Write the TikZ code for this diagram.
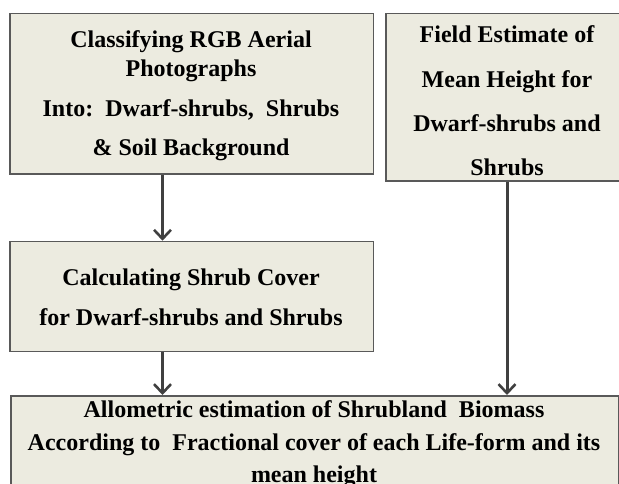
\documentclass[tikz,border=0pt]{standalone}
\usepackage{fontspec}
\setmainfont{Liberation Serif}
\usetikzlibrary{arrows.meta}
\definecolor{boxfill}{HTML}{ECEBE0}
\definecolor{boxline}{HTML}{595959}
\definecolor{arrowcol}{HTML}{404040}
\begin{document}
\begin{tikzpicture}[x=1pt,y=-1pt,
  box/.style={draw=boxline,line width=1.6pt,fill=boxfill,anchor=north west,inner sep=0pt},
  txt/.style={anchor=base,inner sep=0pt,font=\fontsize{24}{28}\selectfont\bfseries},
  flow/.style={draw=arrowcol,line width=3pt,-{Straight Barb[length=9pt,width=17pt,line width=2.6pt]}}]
\useasboundingbox (0,0) rectangle (619,484);
\clip (0,0) rectangle (619,484);
% boxes
\node[box,minimum width=363.4pt,minimum height=160.3pt] (b1) at (9.3,12.7) {};
\node[box,minimum width=244pt,minimum height=167.5pt] (b2) at (385,12.7) {};
\node[box,minimum width=363.4pt,minimum height=110pt] (b3) at (9.3,240.7) {};
\node[box,minimum width=608pt,minimum height=100pt] (b4) at (10,395) {};
% texts
\node[txt] (t1a) at (191,48) {Classifying RGB Aerial};
\node[txt] (t1b) at (191,76.5) {Photographs};
\node[txt] (t1c) at (191,117) {Into:\ \ Dwarf-shrubs,\ \ Shrubs};
\node[txt] (t1d) at (191,156) {\& Soil Background};
\node[txt] (t2a) at (507,43) {Field Estimate of};
\node[txt] (t2b) at (507,88) {Mean Height for};
\node[txt] (t2c) at (507,132) {Dwarf-shrubs and};
\node[txt] (t2d) at (507,175.5) {Shrubs};
\node[txt] (t3a) at (191,285) {Calculating Shrub Cover};
\node[txt] (t3b) at (191,325) {for Dwarf-shrubs and Shrubs};
\node[txt] (t4a) at (314,417) {Allometric estimation of Shrubland\ \ Biomass};
\node[txt] (t4b) at (314,450) {According to\ \ Fractional cover of each Life-form and its};
\node[txt] (t4c) at (314,482) {mean height};
% connectors
\coordinate (cl) at (162.5,0);
\coordinate (cr) at (507,0);
\draw[flow] (b1.south -| cl) -- (b3.north -| cl);
\draw[flow] (b3.south -| cl) -- (b4.north -| cl);
\draw[flow] (b2.south -| cr) -- (b4.north -| cr);
\end{tikzpicture}
\end{document}
